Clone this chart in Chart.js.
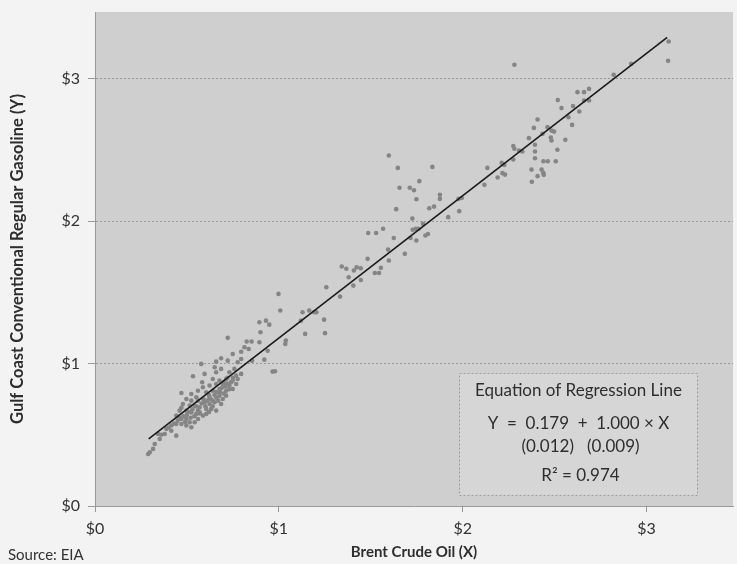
<!DOCTYPE html>
<html>
<head>
<meta charset="utf-8">
<script src="https://cdn.jsdelivr.net/npm/chart.js@4.4.1/dist/chart.umd.min.js"></script>
<style>
html,body{margin:0;padding:0;background:#f3f3f3;}
#wrap{width:737px;height:564px;position:relative;}
</style>
</head>
<body>
<div id="wrap"><canvas id="c" width="737" height="564"></canvas></div>
<script>
// ---- Data (Brent crude oil $/gal, X; Gulf Coast conventional regular gasoline $/gal, Y) ----
const lowBrent = [
  0.497,0.524,0.695,0.478,0.515,0.542,0.569,0.596,0.623,0.650,
  0.686,0.460,0.497,0.524,0.551,0.569,0.605,0.632,0.659,0.442,
  0.470,0.497,0.515,0.542,0.560,0.587,0.605,0.415,0.442,0.470,
  0.497,0.524,0.388,0.379,0.415,0.442,0.352,0.325,0.316,0.298,
  0.289,0.343,
  0.45,0.48,0.50,0.52,0.53,0.55,0.56,0.58,0.59,0.60,
  0.61,0.62,0.63,0.64,0.65,0.66,0.67,0.68,0.69,0.70,
  0.71,0.72,0.73,0.74,0.75,0.46,0.49,0.51,0.54,0.57,
  0.62,0.64,0.66,0.70,0.72,0.40,0.43,0.36,0.47,0.56,
  0.722,0.686,0.722,0.659,0.578,0.651,0.686,0.659,0.596,0.533,
  0.731,0.768,0.795,0.758,0.641,0.677,0.713,0.749,0.776,0.583,
  0.587,0.623,0.659,0.695,0.731,0.768,0.560,0.605,0.641,0.677,
  0.713,0.749,0.470,0.524,0.551,0.623,0.677,0.713
];
const lowGasoline = [
  0.752,0.740,0.752,0.717,0.705,0.705,0.693,0.729,0.717,0.729,
  0.717,0.670,0.670,0.658,0.647,0.658,0.682,0.682,0.670,0.635,
  0.611,0.611,0.588,0.588,0.611,0.635,0.647,0.565,0.576,0.576,
  0.565,0.553,0.541,0.506,0.529,0.494,0.471,0.436,0.401,0.377,
  0.365,0.506,
  0.60,0.63,0.64,0.62,0.68,0.70,0.67,0.72,0.75,0.70,
  0.74,0.78,0.75,0.70,0.78,0.80,0.74,0.80,0.83,0.79,
  0.84,0.86,0.82,0.87,0.90,0.62,0.59,0.66,0.63,0.65,
  0.66,0.74,0.76,0.87,0.90,0.55,0.58,0.50,0.69,0.74,
  1.181,1.038,1.021,1.014,0.998,0.975,0.963,0.940,0.928,0.911,
  0.940,0.916,0.928,0.963,0.892,0.881,0.892,0.881,0.892,0.869,
  0.834,0.846,0.857,0.857,0.846,0.857,0.810,0.799,0.810,0.822,
  0.810,0.822,0.794,0.787,0.764,0.764,0.775,0.775
];
const midBrent = [
  0.998,1.008,1.129,1.165,1.192,1.204,1.120,0.894,0.930,0.948,
  0.900,1.143,1.038,1.035,0.825,0.852,0.894,0.813,0.836,0.795,
  0.749,0.939,0.921,0.854,0.776,0.795,0.966,0.979,1.251
];
const midGasoline = [
  1.490,1.373,1.361,1.373,1.361,1.361,1.302,1.291,1.302,1.274,
  1.220,1.209,1.162,1.138,1.155,1.155,1.150,1.115,1.103,1.084,
  1.068,1.091,1.028,1.021,1.010,1.033,0.944,0.946,1.214
];
const highBrent = [
  1.598,1.647,1.835,1.764,1.656,1.712,1.735,1.748,1.876,1.876,
  1.995,1.977,1.638,1.818,1.844,1.981,1.921,1.726,1.784,1.760,
  1.728,1.745,1.567,1.486,1.529,1.625,1.716,1.748,1.797,1.811,
  1.594,1.598,1.685,1.483,1.342,1.367,1.423,1.445,1.408,1.380,
  1.446,1.522,1.545,1.555,1.405,1.258,1.333,1.246
];
const highGasoline = [
  2.462,2.375,2.382,2.282,2.235,2.235,2.218,2.155,2.186,2.157,
  2.164,2.157,2.085,2.092,2.103,2.071,2.029,2.019,1.982,1.947,
  1.940,1.947,1.947,1.918,1.918,1.883,1.883,1.865,1.900,1.911,
  1.801,1.724,1.771,1.736,1.682,1.666,1.677,1.670,1.654,1.607,
  1.588,1.637,1.637,1.673,1.548,1.537,1.471,1.309
];
const topBrent = [
  2.281,3.120,3.117,2.916,2.821,2.624,2.660,2.687,2.517,2.687,
  2.660,2.537,2.600,2.575,2.634,2.595,2.407,2.387,2.461,2.483,
  2.497,2.479,2.483,2.434,2.558,2.275,2.281,2.360,2.393,2.393,
  2.324,2.306,2.515,2.275,2.212,2.226,2.216,2.230,2.134,2.190,
  2.118,2.393,2.439,2.463,2.506,2.429,2.438,2.441,2.407,2.374,
  2.376
];
const topGasoline = [
  3.099,3.263,3.127,3.106,3.029,2.907,2.907,2.930,2.851,2.848,
  2.848,2.795,2.809,2.731,2.771,2.677,2.715,2.656,2.661,2.637,
  2.630,2.588,2.567,2.614,2.572,2.528,2.509,2.584,2.537,2.490,
  2.490,2.497,2.502,2.434,2.410,2.396,2.338,2.328,2.375,2.307,
  2.256,2.443,2.422,2.422,2.422,2.363,2.340,2.326,2.317,2.363,
  2.277
];

const xTicks = [0, 1, 2, 3];
const yTicks = [0, 1, 2, 3];
const axisMax = 3.47;
const regIntercept = 0.179;
const regSlope = 1.000;
const regLineFrom = 0.292;
const regLineTo = 3.112;
const boxLines = ["Equation of Regression Line", "Y  =  0.179  +  1.000 \u00d7 X", "(0.012)   (0.009)", "R\u00b2 = 0.974"];
const xTitle = "Brent Crude Oil (X)";
const yTitle = "Gulf Coast Conventional Regular Gasoline (Y)";
const sourceNote = "Source: EIA";

// ---- Build ----
const brentAll = lowBrent.concat(midBrent, highBrent, topBrent);
const gasAll = lowGasoline.concat(midGasoline, highGasoline, topGasoline);
const scatterData = brentAll.map((x, i) => ({x: x, y: gasAll[i]}));
const lineData = [regLineFrom, regLineTo].map(x => ({x: x, y: regIntercept + regSlope * x}));

const FONT = "Lato, 'Open Sans', sans-serif";

const plotBg = {
  id: 'plotBg',
  beforeDraw(chart) {
    const {ctx, chartArea: a} = chart;
    ctx.save();
    ctx.fillStyle = '#cfcfcf';
    ctx.fillRect(a.left, a.top, a.right - a.left, a.bottom - a.top);
    ctx.restore();
  }
};

const annotations = {
  id: 'annotations',
  afterDraw(chart) {
    const {ctx, chartArea: a} = chart;
    const w = a.right - a.left, h = a.bottom - a.top;
    const x0 = Math.round(a.left + w * 0.570) + 0.5, x1 = Math.round(a.left + w * 0.944) + 0.5;
    const y0 = Math.round(a.top + h * 0.731) + 0.5, y1 = Math.round(a.top + h * 0.978) + 0.5;
    ctx.save();
    ctx.fillStyle = '#d6d6d6';
    ctx.fillRect(x0, y0, x1 - x0, y1 - y0);
    ctx.setLineDash([2, 2]);
    ctx.strokeStyle = '#9c9c9c';
    ctx.lineWidth = 1;
    ctx.strokeRect(x0, y0, x1 - x0, y1 - y0);
    ctx.setLineDash([]);
    ctx.fillStyle = '#2e2e2e';
    ctx.textAlign = 'center';
    ctx.textBaseline = 'middle';
    const cx = (x0 + x1) / 2;
    ctx.font = "17px " + FONT;
    ctx.fillText(boxLines[0], cx, y0 + 17.5);
    ctx.fillText(boxLines[1], cx, y0 + 50.5);
    ctx.fillText(boxLines[2], cx + 2, y0 + 73);
    ctx.fillText(boxLines[3], cx + 2, y0 + 102);
    // source note
    ctx.textAlign = 'left';
    ctx.font = "15px " + FONT;
    ctx.fillStyle = '#333333';
    ctx.fillText(sourceNote, 8, 555);
    ctx.restore();
  }
};

new Chart(document.getElementById('c'), {
  type: 'scatter',
  data: {
    datasets: [
      {
        type: 'scatter',
        data: scatterData,
        pointRadius: 2.3,
        pointBackgroundColor: '#858585',
        pointBorderWidth: 0,
        pointBorderColor: 'rgba(0,0,0,0)',
        order: 2
      },
      {
        type: 'line',
        data: lineData,
        borderColor: '#1a1a1a',
        borderWidth: 1.6,
        pointRadius: 0,
        fill: false,
        order: 1
      }
    ]
  },
  options: {
    responsive: false,
    animation: false,
    events: [],
    layout: {padding: {top: 12, right: 0, left: 0, bottom: 0}},
    plugins: {legend: {display: false}, tooltip: {enabled: false}},
    scales: {
      x: {
        type: 'linear',
        min: 0, max: axisMax,
        afterBuildTicks: s => { s.ticks = xTicks.map(v => ({value: v})); },
        afterFit: s => { s.height = 58; s.paddingLeft = 0; s.paddingRight = 0; },
        grid: {drawOnChartArea: false, drawTicks: true, tickLength: 6, tickColor: '#999999'},
        border: {display: true, color: '#9a9a9a', width: 1},
        ticks: {
          padding: 7,
          color: '#333333',
          font: {family: FONT, size: 16},
          callback: v => '$' + v
        },
        title: {
          display: true, text: xTitle, color: '#2e2e2e',
          font: {family: FONT, size: 15, weight: 'bold'},
          padding: {top: 0, bottom: 3}
        }
      },
      y: {
        type: 'linear',
        min: 0, max: axisMax,
        afterBuildTicks: s => { s.ticks = yTicks.map(v => ({value: v})); },
        afterFit: s => { s.width = 95; s.paddingTop = 0; s.paddingBottom = 0; },
        grid: {
          drawOnChartArea: true, drawTicks: true, tickLength: 7,
          color: ctx => (ctx.tick && ctx.tick.value === 0) ? 'rgba(0,0,0,0)' : '#979797',
          tickColor: '#999999', tickBorderDash: []
        },
        border: {display: true, color: '#9a9a9a', width: 1, dash: [2, 2]},
        ticks: {
          padding: 8,
          color: '#333333',
          font: {family: FONT, size: 16},
          callback: v => '$' + v
        },
        title: {
          display: true, text: yTitle, color: '#2e2e2e',
          font: {family: FONT, size: 16.5, weight: 'bold'},
          padding: {top: 8, bottom: 0}
        }
      }
    }
  },
  plugins: [plotBg, annotations]
});
</script>
</body>
</html>
